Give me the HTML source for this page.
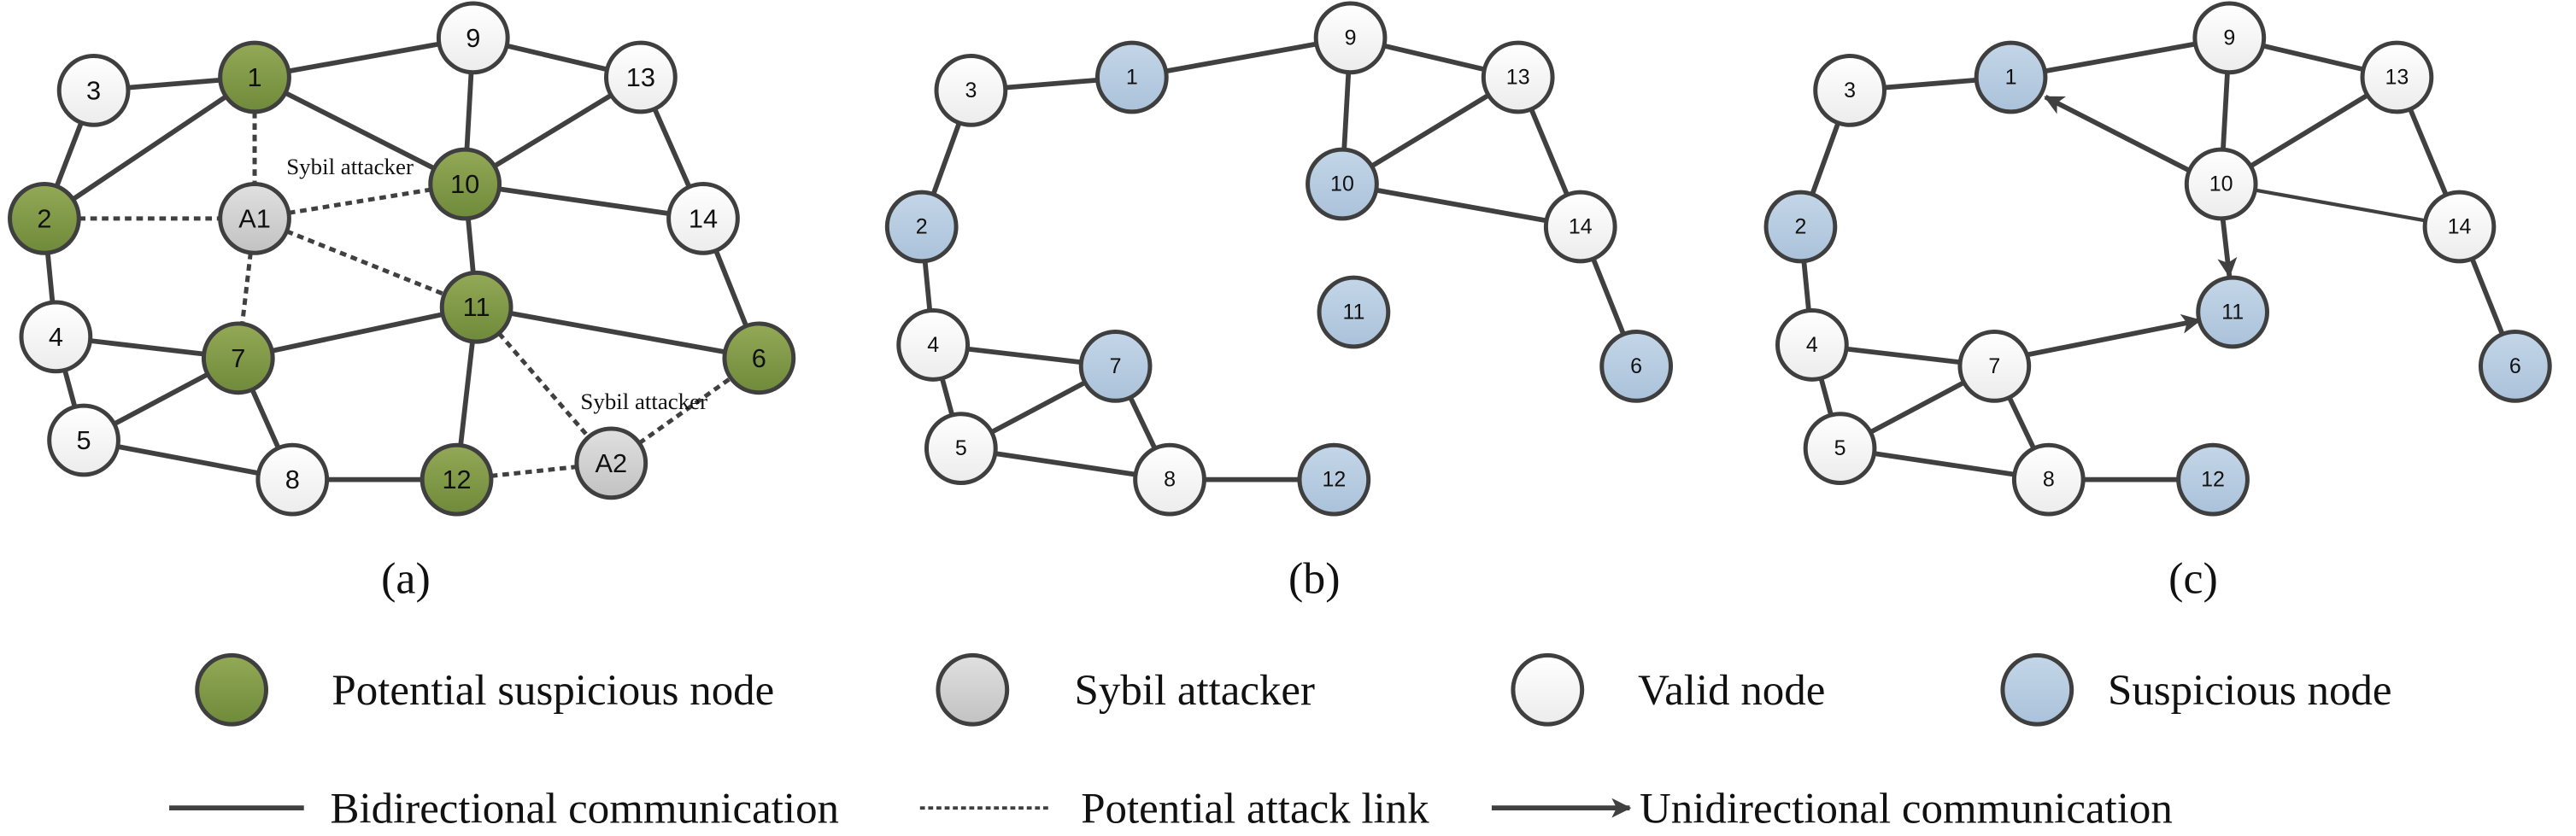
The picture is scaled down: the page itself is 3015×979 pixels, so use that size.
<!DOCTYPE html>
<html><head><meta charset="utf-8"><style>
html,body{margin:0;padding:0;background:#fff}
svg{display:block}
.n{stroke:#3f3f3f;stroke-width:2.6}
.l{stroke:#404040;stroke-width:3;fill:none}
.d{stroke:#404040;stroke-width:2.6;stroke-dasharray:4 3;fill:none}
.t{font-family:"Liberation Sans",sans-serif;font-size:13px;text-anchor:middle;dominant-baseline:central;fill:#111}
.a .t{font-size:16px}
.s{font-family:"Liberation Serif",serif;fill:#111}
</style></head><body>
<svg width="3015" height="979" viewBox="0 0 1568 509" xmlns="http://www.w3.org/2000/svg">
<defs>
<linearGradient id="g" x1="0" y1="0" x2="0" y2="1"><stop offset="0" stop-color="#93a956"/><stop offset="1" stop-color="#6f8a3b"/></linearGradient>
<linearGradient id="w" x1="0" y1="0" x2="0" y2="1"><stop offset="0" stop-color="#ffffff"/><stop offset="1" stop-color="#ececec"/></linearGradient>
<linearGradient id="y" x1="0" y1="0" x2="0" y2="1"><stop offset="0" stop-color="#e0e0e0"/><stop offset="1" stop-color="#c2c2c2"/></linearGradient>
<linearGradient id="b" x1="0" y1="0" x2="0" y2="1"><stop offset="0" stop-color="#c4d6e8"/><stop offset="1" stop-color="#aac2da"/></linearGradient>
<marker id="ar" markerWidth="12" markerHeight="12" refX="11" refY="6" orient="auto" markerUnits="userSpaceOnUse"><path d="M0,0 L12,6 L0,12 L3,6 Z" fill="#404040"/></marker>
</defs>

<!-- Panel (a) edges -->
<g class="l">
<line x1="57" y1="55" x2="155" y2="47"/><line x1="155" y1="47" x2="288" y2="23"/>
<line x1="155" y1="47" x2="283" y2="112"/><line x1="155" y1="47" x2="27" y2="133"/>
<line x1="57" y1="55" x2="27" y2="133"/><line x1="288" y1="23" x2="283" y2="112"/>
<line x1="288" y1="23" x2="390" y2="47"/><line x1="390" y1="47" x2="283" y2="112"/>
<line x1="390" y1="47" x2="428" y2="133"/><line x1="283" y1="112" x2="428" y2="133"/>
<line x1="283" y1="112" x2="290" y2="187"/><line x1="428" y1="133" x2="462" y2="218"/>
<line x1="27" y1="133" x2="34" y2="205"/><line x1="34" y1="205" x2="145" y2="218"/>
<line x1="34" y1="205" x2="51" y2="268"/><line x1="51" y1="268" x2="145" y2="218"/>
<line x1="51" y1="268" x2="178" y2="292"/><line x1="145" y1="218" x2="178" y2="292"/>
<line x1="145" y1="218" x2="290" y2="187"/><line x1="290" y1="187" x2="462" y2="218"/>
<line x1="290" y1="187" x2="278" y2="292"/><line x1="178" y1="292" x2="278" y2="292"/>
</g>
<g class="d">
<line x1="155" y1="47" x2="155" y2="133"/><line x1="27" y1="133" x2="155" y2="133"/>
<line x1="155" y1="133" x2="283" y2="112"/><line x1="155" y1="133" x2="290" y2="187"/>
<line x1="155" y1="133" x2="145" y2="218"/><line x1="290" y1="187" x2="372" y2="282"/>
<line x1="278" y1="292" x2="372" y2="282"/><line x1="372" y1="282" x2="462" y2="218"/>
</g>
<g class="a">
<circle class="n" cx="57" cy="55" r="21" fill="url(#w)"/><text class="t" x="57" y="55">3</text>
<circle class="n" cx="155" cy="47" r="21" fill="url(#g)"/><text class="t" x="155" y="47">1</text>
<circle class="n" cx="288" cy="23" r="21" fill="url(#w)"/><text class="t" x="288" y="23">9</text>
<circle class="n" cx="390" cy="47" r="21" fill="url(#w)"/><text class="t" x="390" y="47">13</text>
<circle class="n" cx="27" cy="133" r="21" fill="url(#g)"/><text class="t" x="27" y="133">2</text>
<circle class="n" cx="155" cy="133" r="21" fill="url(#y)"/><text class="t" x="155" y="133">A1</text>
<circle class="n" cx="283" cy="112" r="21" fill="url(#g)"/><text class="t" x="283" y="112">10</text>
<circle class="n" cx="428" cy="133" r="21" fill="url(#w)"/><text class="t" x="428" y="133">14</text>
<circle class="n" cx="34" cy="205" r="21" fill="url(#w)"/><text class="t" x="34" y="205">4</text>
<circle class="n" cx="145" cy="218" r="21" fill="url(#g)"/><text class="t" x="145" y="218">7</text>
<circle class="n" cx="290" cy="187" r="21" fill="url(#g)"/><text class="t" x="290" y="187">11</text>
<circle class="n" cx="462" cy="218" r="21" fill="url(#g)"/><text class="t" x="462" y="218">6</text>
<circle class="n" cx="51" cy="268" r="21" fill="url(#w)"/><text class="t" x="51" y="268">5</text>
<circle class="n" cx="178" cy="292" r="21" fill="url(#w)"/><text class="t" x="178" y="292">8</text>
<circle class="n" cx="278" cy="292" r="21" fill="url(#g)"/><text class="t" x="278" y="292">12</text>
<circle class="n" cx="372" cy="282" r="21" fill="url(#y)"/><text class="t" x="372" y="282">A2</text>
</g>
<text class="s" x="213" y="106" font-size="14" text-anchor="middle">Sybil attacker</text>
<text class="s" x="392" y="249" font-size="14" text-anchor="middle">Sybil attacker</text>

<!-- Panel (b) -->
<g class="l">
<line x1="591" y1="55" x2="689" y2="47"/><line x1="689" y1="47" x2="822" y2="23"/>
<line x1="822" y1="23" x2="817" y2="112"/><line x1="822" y1="23" x2="924" y2="47"/>
<line x1="924" y1="47" x2="817" y2="112"/><line x1="924" y1="47" x2="962" y2="138"/>
<line x1="817" y1="112" x2="962" y2="138"/><line x1="962" y1="138" x2="996" y2="223"/>
<line x1="591" y1="55" x2="561" y2="138"/><line x1="561" y1="138" x2="568" y2="210"/>
<line x1="568" y1="210" x2="679" y2="223"/><line x1="568" y1="210" x2="585" y2="273"/>
<line x1="585" y1="273" x2="679" y2="223"/><line x1="585" y1="273" x2="712" y2="292"/>
<line x1="679" y1="223" x2="712" y2="292"/><line x1="712" y1="292" x2="812" y2="292"/>
</g>
<g>
<circle class="n" cx="591" cy="55" r="21" fill="url(#w)"/><text class="t" x="591" y="55">3</text>
<circle class="n" cx="689" cy="47" r="21" fill="url(#b)"/><text class="t" x="689" y="47">1</text>
<circle class="n" cx="822" cy="23" r="21" fill="url(#w)"/><text class="t" x="822" y="23">9</text>
<circle class="n" cx="924" cy="47" r="21" fill="url(#w)"/><text class="t" x="924" y="47">13</text>
<circle class="n" cx="561" cy="138" r="21" fill="url(#b)"/><text class="t" x="561" y="138">2</text>
<circle class="n" cx="817" cy="112" r="21" fill="url(#b)"/><text class="t" x="817" y="112">10</text>
<circle class="n" cx="962" cy="138" r="21" fill="url(#w)"/><text class="t" x="962" y="138">14</text>
<circle class="n" cx="568" cy="210" r="21" fill="url(#w)"/><text class="t" x="568" y="210">4</text>
<circle class="n" cx="679" cy="223" r="21" fill="url(#b)"/><text class="t" x="679" y="223">7</text>
<circle class="n" cx="824" cy="190" r="21" fill="url(#b)"/><text class="t" x="824" y="190">11</text>
<circle class="n" cx="996" cy="223" r="21" fill="url(#b)"/><text class="t" x="996" y="223">6</text>
<circle class="n" cx="585" cy="273" r="21" fill="url(#w)"/><text class="t" x="585" y="273">5</text>
<circle class="n" cx="712" cy="292" r="21" fill="url(#w)"/><text class="t" x="712" y="292">8</text>
<circle class="n" cx="812" cy="292" r="21" fill="url(#b)"/><text class="t" x="812" y="292">12</text>
</g>

<!-- Panel (c) -->
<g class="l">
<line x1="1126" y1="55" x2="1224" y2="47"/><line x1="1224" y1="47" x2="1357" y2="23"/>
<line x1="1357" y1="23" x2="1352" y2="112"/><line x1="1357" y1="23" x2="1459" y2="47"/>
<line x1="1459" y1="47" x2="1352" y2="112"/><line x1="1459" y1="47" x2="1497" y2="138"/>
<line x1="1352" y1="112" x2="1497" y2="138" stroke-width="2.2"/><line x1="1497" y1="138" x2="1531" y2="223"/>
<line x1="1126" y1="55" x2="1096" y2="138"/><line x1="1096" y1="138" x2="1103" y2="210"/>
<line x1="1103" y1="210" x2="1214" y2="223"/><line x1="1103" y1="210" x2="1120" y2="273"/>
<line x1="1120" y1="273" x2="1214" y2="223"/><line x1="1120" y1="273" x2="1247" y2="292"/>
<line x1="1214" y1="223" x2="1247" y2="292"/><line x1="1247" y1="292" x2="1347" y2="292"/>
<line x1="1333" y1="104" x2="1245" y2="59" marker-end="url(#ar)"/>
<line x1="1353" y1="133" x2="1357" y2="168" marker-end="url(#ar)"/>
<line x1="1234" y1="216" x2="1339" y2="195" marker-end="url(#ar)"/>
</g>
<g>
<circle class="n" cx="1126" cy="55" r="21" fill="url(#w)"/><text class="t" x="1126" y="55">3</text>
<circle class="n" cx="1224" cy="47" r="21" fill="url(#b)"/><text class="t" x="1224" y="47">1</text>
<circle class="n" cx="1357" cy="23" r="21" fill="url(#w)"/><text class="t" x="1357" y="23">9</text>
<circle class="n" cx="1459" cy="47" r="21" fill="url(#w)"/><text class="t" x="1459" y="47">13</text>
<circle class="n" cx="1096" cy="138" r="21" fill="url(#b)"/><text class="t" x="1096" y="138">2</text>
<circle class="n" cx="1352" cy="112" r="21" fill="url(#w)"/><text class="t" x="1352" y="112">10</text>
<circle class="n" cx="1497" cy="138" r="21" fill="url(#w)"/><text class="t" x="1497" y="138">14</text>
<circle class="n" cx="1103" cy="210" r="21" fill="url(#w)"/><text class="t" x="1103" y="210">4</text>
<circle class="n" cx="1214" cy="223" r="21" fill="url(#w)"/><text class="t" x="1214" y="223">7</text>
<circle class="n" cx="1359" cy="190" r="21" fill="url(#b)"/><text class="t" x="1359" y="190">11</text>
<circle class="n" cx="1531" cy="223" r="21" fill="url(#b)"/><text class="t" x="1531" y="223">6</text>
<circle class="n" cx="1120" cy="273" r="21" fill="url(#w)"/><text class="t" x="1120" y="273">5</text>
<circle class="n" cx="1247" cy="292" r="21" fill="url(#w)"/><text class="t" x="1247" y="292">8</text>
<circle class="n" cx="1347" cy="292" r="21" fill="url(#b)"/><text class="t" x="1347" y="292">12</text>
</g>

<!-- captions -->
<text class="s" x="247" y="361" font-size="27" text-anchor="middle">(a)</text>
<text class="s" x="800" y="361" font-size="27" text-anchor="middle">(b)</text>
<text class="s" x="1335" y="361" font-size="27" text-anchor="middle">(c)</text>

<!-- legend row 1 -->
<circle class="n" cx="141" cy="420" r="21" fill="url(#g)"/>
<text class="s" x="202" y="429" font-size="26.5">Potential suspicious node</text>
<circle class="n" cx="592" cy="420" r="21" fill="url(#y)"/>
<text class="s" x="654" y="429" font-size="26.5">Sybil attacker</text>
<circle class="n" cx="942" cy="420" r="21" fill="url(#w)"/>
<text class="s" x="997" y="429" font-size="26.5">Valid node</text>
<circle class="n" cx="1240" cy="420" r="21" fill="url(#b)"/>
<text class="s" x="1283" y="429" font-size="26.5">Suspicious node</text>

<!-- legend row 2 -->
<line class="l" x1="103" y1="492" x2="185" y2="492"/>
<text class="s" x="201" y="501" font-size="26.5">Bidirectional communication</text>
<line x1="560" y1="492" x2="640" y2="492" stroke="#404040" stroke-width="2" stroke-dasharray="3 2"/>
<text class="s" x="658" y="501" font-size="26.5">Potential attack link</text>
<line class="l" x1="908" y1="492" x2="992" y2="492" marker-end="url(#ar)"/>
<text class="s" x="998" y="501" font-size="26.5">Unidirectional communication</text>
</svg>
</body></html>
